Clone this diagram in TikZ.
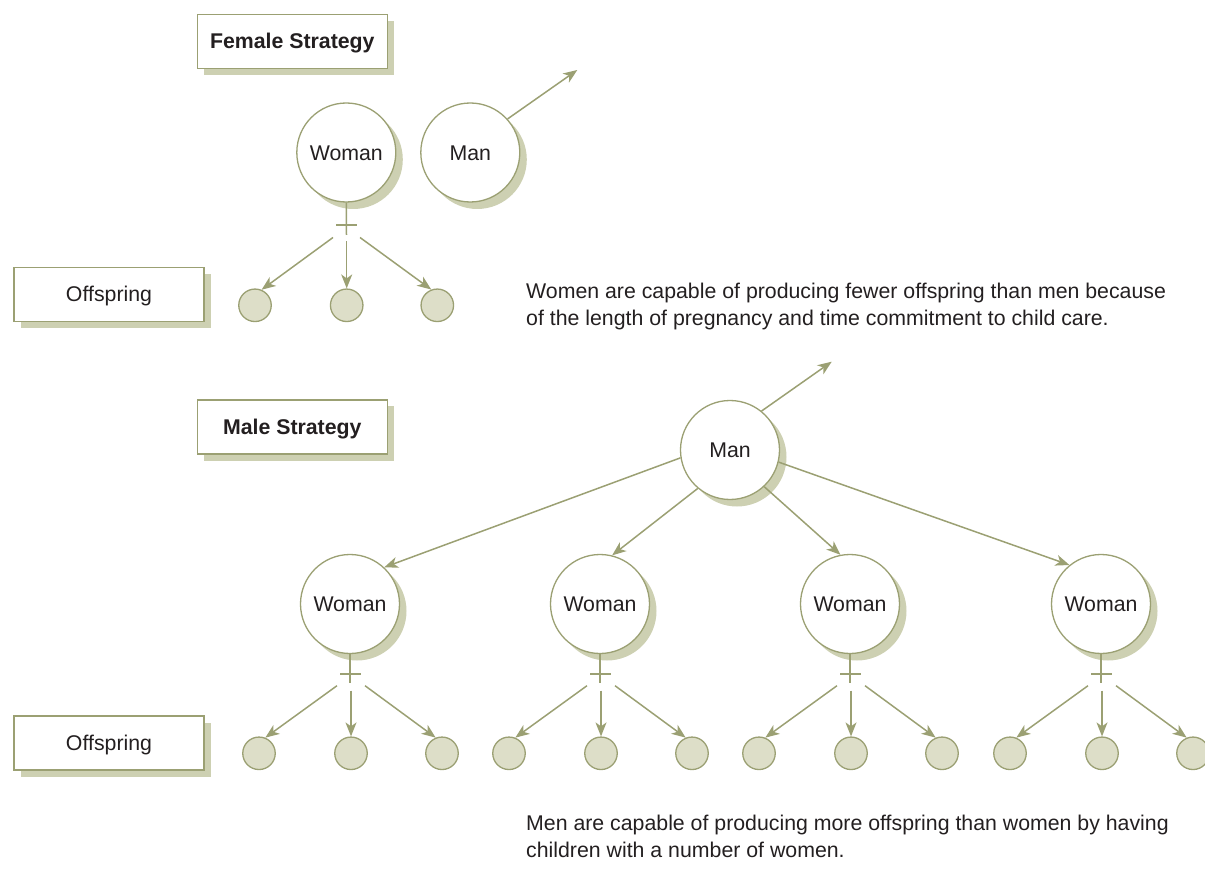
\documentclass[tikz,border=0pt]{standalone}
\usepackage{fontspec}
\setmainfont{Liberation Sans}
\usetikzlibrary{shadows,arrows.meta}
\definecolor{olive}{RGB}{155,160,115}
\definecolor{shade}{RGB}{205,208,178}
\definecolor{seed}{RGB}{221,222,200}
\definecolor{ink}{RGB}{35,31,32}
\newcommand\bodyfont{\fontsize{21.3pt}{26.5pt}\selectfont}
\tikzset{
  linkline/.style={draw=olive, line width=1.5pt},
  arrowline/.style={linkline, -{Stealth[length=14pt,width=11pt,inset=4pt]}},
  personnode/.style={circle, draw=olive, line width=1.3pt, fill=white,
    minimum size=99pt, inner sep=0pt, text=ink, font=\bodyfont,
    text height=15.2pt, text depth=0pt,
    drop shadow={shadow xshift=7pt, shadow yshift=-7pt, opacity=1, fill=shade}},
  kidnode/.style={circle, draw=olive, line width=1.3pt, fill=seed,
    minimum size=32.5pt, inner sep=0pt},
  tagbox/.style={rectangle, draw=olive, line width=1.3pt, fill=white,
    minimum width=190pt, minimum height=54pt, inner sep=0pt, text=ink, font=\bodyfont,
    text height=15.2pt, text depth=0pt,
    drop shadow={shadow xshift=6.5pt, shadow yshift=-6.5pt, opacity=1, fill=shade}},
  notetext/.style={anchor=base west, align=left, inner sep=0pt, text=ink, font=\bodyfont},
}
\begin{document}
\begin{tikzpicture}[x=1pt,y=-1pt]
\useasboundingbox (0,0) rectangle (1205,882);

% ---- Female strategy ----
\node[tagbox, font=\bodyfont\bfseries] (fem) at (292.3,41.2) {Female Strategy};
\node[tagbox] (offA) at (109,294.2) {Offspring};

\node[personnode] (wt) at (346.3,152.5) {Woman};
\node[personnode] (mt) at (470.3,152.5) {Man};
\coordinate (tend) at (577.3,70);
\draw[arrowline] (mt.42) -- (tend);

% cross below the woman
\coordinate (tbar) at (346.5,235);
\draw[linkline] (wt.south) -- (tbar);
\coordinate (tbl) at (336,225);
\coordinate (tbr) at (357,225);
\draw[linkline] (tbl) -- (tbr);

\node[kidnode] (ta) at (255,305.3) {};
\node[kidnode] (tb) at (346.7,305.3) {};
\node[kidnode] (tc) at (437.3,305.3) {};
\coordinate (tl) at (333,237.5);
\coordinate (tm) at (346.7,241.5);
\coordinate (tr) at (360,237.5);
\draw[arrowline] (tl) -- (ta.67);
\draw[arrowline] (tm) -- (tb.north);
\draw[arrowline] (tr) -- (tc.111);

% the anchor sits on the baseline of the last line
\node[notetext] (noteA) at (526,325.5)
  {Women are capable of producing fewer offspring than men because\\
   of the length of pregnancy and time commitment to child care.};

% ---- Male strategy ----
\node[tagbox, font=\bodyfont\bfseries] (mal) at (292.3,427) {Male Strategy};
\node[tagbox] (offB) at (109,743) {Offspring};

\node[personnode] (ml) at (730,450) {Man};
\coordinate (lend) at (831.7,361.7);
\draw[arrowline] (ml.51) -- (lend);

\foreach \i/\x in {1/350,2/600,3/850,4/1101}{
  \node[personnode] (w\i) at (\x,604) {Woman};
  \coordinate (bar\i) at (\x,683);
  \draw[linkline] (w\i.south) -- (bar\i);
  \coordinate (bl\i) at (\x-10,674);
  \coordinate (br\i) at (\x+11,674);
  \draw[linkline] (bl\i) -- (br\i);
  \node[kidnode] (ka\i) at (\x-91,753.3) {};
  \node[kidnode] (kb\i) at (\x+1,753.3) {};
  \node[kidnode] (kc\i) at (\x+92,753.3) {};
  \coordinate (sl\i) at (\x-13,685.7);
  \coordinate (sm\i) at (\x+1,690.5);
  \coordinate (sr\i) at (\x+15,685.7);
  \draw[arrowline] (sl\i) -- (ka\i.68);
  \draw[arrowline] (sm\i) -- (kb\i.north);
  \draw[arrowline] (sr\i) -- (kc\i.112);
}

\draw[arrowline] (ml.189) -- (w1.47);
\draw[arrowline] (ml.230) -- (w2.76);
\draw[arrowline] (ml.313) -- (w3.101);
\draw[arrowline] (ml.346) -- (w4.129);

\node[notetext] (noteB) at (526,857)
  {Men are capable of producing more offspring than women by having\\
   children with a number of women.};
\end{tikzpicture}
\end{document}
